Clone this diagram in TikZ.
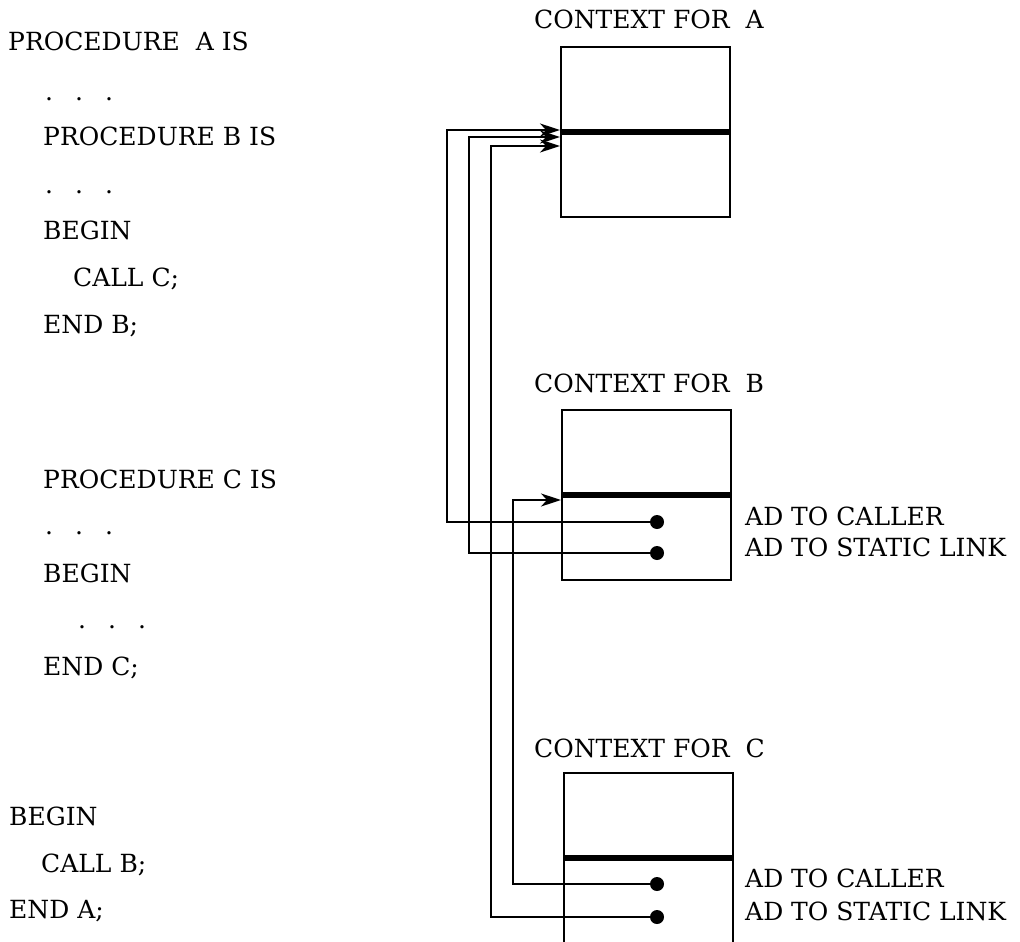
\documentclass[tikz,border=0pt]{standalone}
\usepackage{fontspec}
\setmainfont{DejaVu Serif}
\usetikzlibrary{arrows.meta,calc}
\begin{document}
\begin{tikzpicture}[x=1pt,y=-1pt,
  txt/.style={anchor=base west,inner sep=0pt,font=\fontsize{25}{30}\selectfont},
  ctx/.style={draw,line width=2pt,minimum width=169pt,minimum height=170pt,inner sep=0pt},
  bar/.style={line width=6pt},
  pin/.style={circle,fill,inner sep=0pt,minimum size=14pt},
  link/.style={line width=2pt},
  arr/.style={link,-{Stealth[length=20pt,width=13pt,inset=6pt]}},
]
\useasboundingbox (0,0) rectangle (1020,942);

% program text
\node[txt] (l1) at (8,51) {PROCEDURE\ \ A IS};
\node[txt] (l2) at (45,100) {.\hspace{22pt}.\hspace{22pt}.};
\node[txt] (l3) at (43,145) {PROCEDURE B IS};
\node[txt] (l4) at (45,193) {.\hspace{22pt}.\hspace{22pt}.};
\node[txt] (l5) at (43,239) {BEGIN};
\node[txt] (l6) at (73,286) {CALL C;};
\node[txt] (l7) at (43,333) {END B;};
\node[txt] (l8) at (43,488) {PROCEDURE C IS};
\node[txt] (l9) at (45,534) {.\hspace{22pt}.\hspace{22pt}.};
\node[txt] (l10) at (43,582) {BEGIN};
\node[txt] (l11) at (78,628) {.\hspace{22pt}.\hspace{22pt}.};
\node[txt] (l12) at (43,675) {END C;};
\node[txt] (l13) at (9,825) {BEGIN};
\node[txt] (l14) at (41,872) {CALL B;};
\node[txt] (l15) at (9,918) {END A;};

% context boxes
\node[txt] (hA) at (534,29) {CONTEXT FOR\ \ A};
\node[txt] (hB) at (534,392) {CONTEXT FOR\ \ B};
\node[txt] (hC) at (534,757) {CONTEXT FOR\ \ C};
\node[ctx] (boxA) at (645.5,132) {};
\node[ctx] (boxB) at (646.5,495) {};
\node[ctx] (boxC) at (648.5,858) {};
\draw[bar] (boxA.west) -- (boxA.east);
\draw[bar] (boxB.west) -- (boxB.east);
\draw[bar] (boxC.west) -- (boxC.east);

% pointers
\node[pin] (pBc) at (657,522) {};
\node[pin] (pBs) at (657,553) {};
\node[pin] (pCc) at (657,884) {};
\node[pin] (pCs) at (657,917) {};
\node[txt] (tBc) at (745,525) {AD TO CALLER};
\node[txt] (tBs) at (745,556) {AD TO STATIC LINK};
\node[txt] (tCc) at (745,887) {AD TO CALLER};
\node[txt] (tCs) at (745,920) {AD TO STATIC LINK};

% rails and targets
\coordinate (r1) at (447,0);
\coordinate (r2) at (469,0);
\coordinate (r3) at (491,0);
\coordinate (r4) at (513,0);
\coordinate (tA1) at (boxA.west |- 0,130);
\coordinate (tA2) at (boxA.west |- 0,137);
\coordinate (tA3) at (boxA.west |- 0,146);
\coordinate (tB) at (boxB.west |- 0,500);

\draw[arr] (pBc.center) -- (pBc.center -| r1) |- (tA1);
\draw[arr] (pBs.center) -- (pBs.center -| r2) |- (tA2);
\draw[arr] (pCs.center) -- (pCs.center -| r3) |- (tA3);
\draw[arr] (pCc.center) -- (pCc.center -| r4) |- (tB);
\end{tikzpicture}
\end{document}
